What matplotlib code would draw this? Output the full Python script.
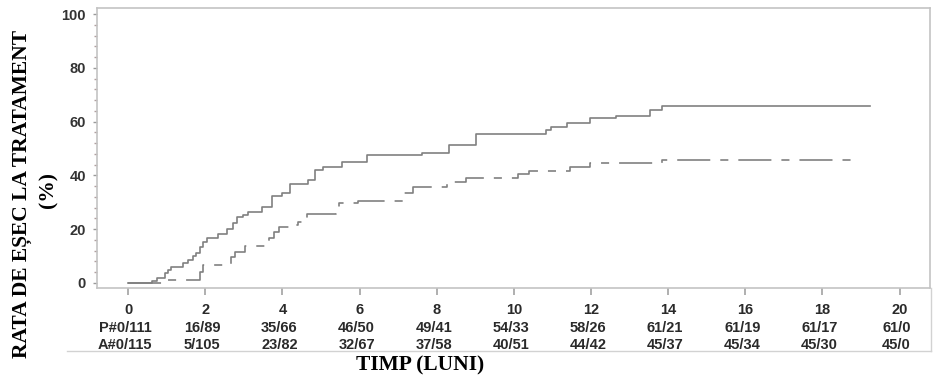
import matplotlib
matplotlib.use("Agg")
import matplotlib.pyplot as plt
from matplotlib.lines import Line2D
from matplotlib.ticker import MultipleLocator
import matplotlib.transforms as mtransforms

plt.rcParams['lines.scale_dashes'] = False

# ---- data ----
times_p = [0, 0.61, 0.74, 0.95, 1.04, 1.12, 1.43, 1.56, 1.69, 1.77, 1.86, 1.94, 2.03, 2.33,
           2.55, 2.72, 2.81, 2.98, 3.11, 3.48, 3.72, 3.98, 4.19, 4.67, 4.84, 5.06, 5.55,
           6.18, 7.61, 8.32, 9.01, 10.83, 10.95, 11.37, 11.97, 12.66, 13.54, 13.83, 19.23]
vals_p = [0, 0.8, 1.7, 3.6, 4.8, 6.1, 7.3, 8.6, 10.0, 11.3, 13.5, 15.4, 16.9, 18.2,
          20.0, 22.2, 24.7, 25.3, 26.5, 28.4, 32.4, 33.6, 36.8, 38.3, 42.0, 43.3, 45.0,
          47.5, 48.5, 51.2, 55.3, 56.8, 58.1, 59.6, 61.2, 62.3, 64.3, 65.8, 65.8]

times_a = [0, 0.95, 1.86, 1.94, 2.66, 2.78, 3.02, 3.65, 3.78, 3.92, 4.19, 4.40, 4.64,
           5.38, 5.46, 5.95, 7.13, 7.38, 8.27, 8.75, 10.11, 10.40, 11.45, 11.97, 13.83, 18.88]
vals_a = [0, 1.1, 4.2, 6.7, 9.8, 11.6, 13.8, 16.6, 19.0, 20.9, 21.6, 22.8, 25.5,
          26.9, 29.6, 30.5, 33.3, 35.8, 37.7, 39.1, 40.5, 41.7, 43.0, 44.5, 45.7, 45.7]

x_ticks = [0, 2, 4, 6, 8, 10, 12, 14, 16, 18, 20]
p_row = ["P#0/111", "16/89", "35/66", "46/50", "49/41", "54/33", "58/26", "61/21", "61/19", "61/17", "61/0"]
a_row = ["A#0/115", "5/105", "23/82", "32/67", "37/58", "40/51", "44/42", "45/37", "45/34", "45/30", "45/0"]
y_ticks = [0, 20, 40, 60, 80, 100]

# ---- figure ----
W, H = 939, 387
fig = plt.figure(figsize=(W / 100, H / 100), dpi=100)
fig.patch.set_facecolor('white')
ax = fig.add_axes([97 / W, 1 - 288 / H, (930 - 97) / W, (288 - 8) / H])

line_col = '#808080'
ax.plot(times_p, vals_p, drawstyle='steps-post', color=line_col, lw=1.2)
la, = ax.plot(times_a, vals_a, drawstyle='steps-post', color=line_col, lw=1.2)
la.set_dashes([23.8, 7.2, 5.8, 7.2])

ax.set_xlim(-0.81, 20.79)
ax.set_ylim(-1.86, 102.3)

spine_col = '#c4c4c4'
for s in ax.spines.values():
    s.set_color(spine_col)
    s.set_linewidth(1.2)

ax.set_xticks(x_ticks)
ax.set_xticklabels([])
ax.tick_params(axis='x', length=5, width=1.1, color='#9a9a9a', direction='out')
ax.set_yticks(y_ticks)
ax.set_yticklabels([str(v) for v in y_ticks], fontfamily='Liberation Sans',
                   fontweight='bold', fontsize=10.5, color='#333333')
ax.yaxis.set_minor_locator(MultipleLocator(4))
ax.tick_params(axis='y', which='major', length=3, width=1.0, color='#9a9a9a', pad=5)
ax.tick_params(axis='y', which='minor', length=2, width=1.0, color='#b0a0a0')

# ---- table rows under the axis ----
trans = mtransforms.blended_transform_factory(ax.transData, fig.transFigure)
row_font = dict(family='Liberation Sans', fontsize=10.5, color='#2a2a2a', fontweight='bold',
                ha='center', va='center')
for x, lab, p, a in zip(x_ticks, x_ticks, p_row, a_row):
    ax.text(x, 1 - 310 / H, str(lab), transform=trans, **row_font)
    ax.text(x - 0.08, 1 - 328 / H, p, transform=trans, **row_font)
    ax.text(x - 0.08, 1 - 345 / H, a, transform=trans, **row_font)

# outer frame lines (bottom + right)
fig.add_artist(Line2D([67 / W, 931 / W], [1 - 351 / H, 1 - 351 / H], transform=fig.transFigure,
                      color='#d2d2d2', lw=1.0))
fig.add_artist(Line2D([931 / W, 931 / W], [1 - 288 / H, 1 - 351 / H], transform=fig.transFigure,
                      color='#d2d2d2', lw=1.0))

# ---- axis titles ----
serif = ['Liberation Serif', 'DejaVu Serif']
fig.text(22 / W, 1 - 194 / H, "RATA DE EȘEC LA TRATAMENT", rotation=90, ha='center', va='center',
         family=serif, fontweight='bold', fontsize=15.5, color='black')
fig.text(48 / W, 1 - 190 / H, "(%)", rotation=90, ha='center', va='center',
         family=serif, fontweight='bold', fontsize=15.5, color='black')
fig.text(420 / W, 1 - 365 / H, "TIMP (LUNI)", ha='center', va='center',
         family=serif, fontweight='bold', fontsize=15.5, color='black')

fig.savefig('out.png', dpi=100, facecolor='white')
